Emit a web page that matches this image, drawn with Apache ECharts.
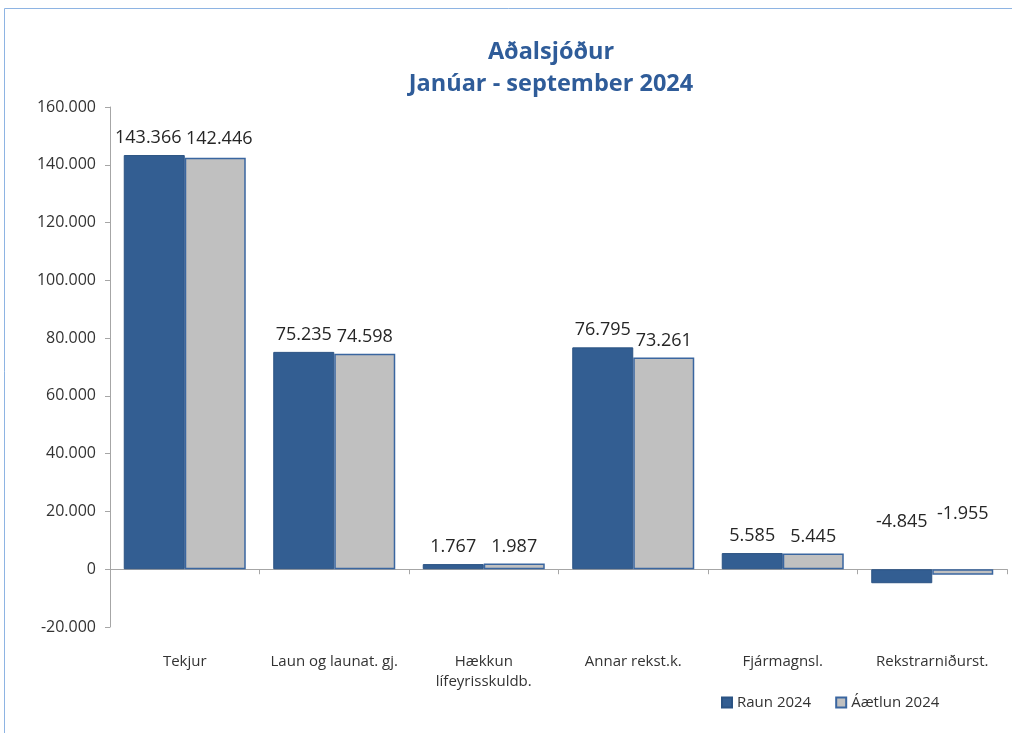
<!DOCTYPE html>
<html>
<head>
<meta charset="utf-8">
<script src="https://cdn.jsdelivr.net/npm/echarts@6/dist/echarts.min.js"></script>
<style>
  html, body { margin: 0; padding: 0; background: #fff; }
  #chart { width: 1012px; height: 733px; }
</style>
</head>
<body>
<div id="chart"></div>
<script>
const categories = ["Tekjur", "Laun og launat. gj.", "Hækkun\nlífeyrisskuldb.", "Annar rekst.k.", "Fjármagnsl.", "Rekstrarniðurst."]
const raun2024 = [143366, 75235, 1767, 76795, 5585, -4845]
const aaetlun2024 = [142446, 74598, 1987, 73261, 5445, -1955]
const yTicks = { min: -20000, max: 160000, interval: 20000 }

const fmt = v => {
  const s = Math.abs(v).toString().replace(/\B(?=(\d{3})+(?!\d))/g, ".")
  return (v < 0 ? "-" : "") + s
}

const font = "Open Sans"

// label tweaks: negatives lifted above the zero line, Tekjur labels nudged apart
const raunLabels = { 0: { offset: [-6, 0] }, 5: { distance: 38 } }
const aaetlunLabels = { 0: { offset: [4, 0], distance: 10 }, 5: { distance: 46 } }
const withLabels = (values, tweaks) => values.map((v, i) => tweaks[i]
  ? { value: v, label: Object.assign({ position: "top" }, tweaks[i]) }
  : v)

const chart = echarts.init(document.getElementById("chart"))
chart.setOption({
  textStyle: { fontFamily: font },
  graphic: [{
    type: "rect",
    shape: { x: 4.5, y: 8.5, width: 1020, height: 740 },
    style: { fill: null, stroke: "#8EB4E3", lineWidth: 1 },
    silent: true
  }],
  title: {
    text: "Aðalsjóður\nJanúar - september 2024",
    left: 546,
    top: 31,
    textAlign: "center",
    textStyle: { color: "#2F5C99", fontSize: 23.5, fontWeight: "bold", lineHeight: 32, fontFamily: font }
  },
  legend: {
    left: 716,
    top: 690,
    icon: "rect",
    itemWidth: 10,
    itemHeight: 10,
    itemGap: 24,
    textStyle: { fontSize: 15, color: "#333", fontFamily: font }
  },
  grid: { left: 110, right: 5, top: 107, bottom: 106, outerBoundsMode: "none" },
  xAxis: {
    type: "category",
    data: categories,
    axisLine: { onZero: true, lineStyle: { color: "#A6A6A6" } },
    axisTick: { show: true, length: 5, lineStyle: { color: "#A6A6A6" } },
    axisLabel: { margin: 25, fontSize: 15, color: "#333", lineHeight: 20, interval: 0 }
  },
  yAxis: {
    type: "value",
    min: yTicks.min,
    max: yTicks.max,
    interval: yTicks.interval,
    splitLine: { show: false },
    axisLine: { show: true, lineStyle: { color: "#A6A6A6" } },
    axisTick: { show: true, length: 5, lineStyle: { color: "#A6A6A6" } },
    axisLabel: { fontSize: 16, color: "#333", margin: 14, formatter: fmt }
  },
  series: [
    {
      name: "Raun 2024",
      type: "bar",
      data: withLabels(raun2024, raunLabels),
      barWidth: 61,
      barGap: "0%",
      itemStyle: { color: "#335E92", borderColor: "#2B5383", borderWidth: 1 },
      label: { show: true, position: "top", distance: 8, fontSize: 18, color: "#262626", formatter: p => fmt(p.value) }
    },
    {
      name: "Áætlun 2024",
      type: "bar",
      data: withLabels(aaetlun2024, aaetlunLabels),
      barWidth: 61,
      barGap: "0%",
      itemStyle: { color: "#C0C0C0", borderColor: "#3A66A0", borderWidth: 1.5 },
      label: { show: true, position: "top", distance: 8, fontSize: 18, color: "#262626", formatter: p => fmt(p.value) }
    }
  ]
})
</script>
</body>
</html>
